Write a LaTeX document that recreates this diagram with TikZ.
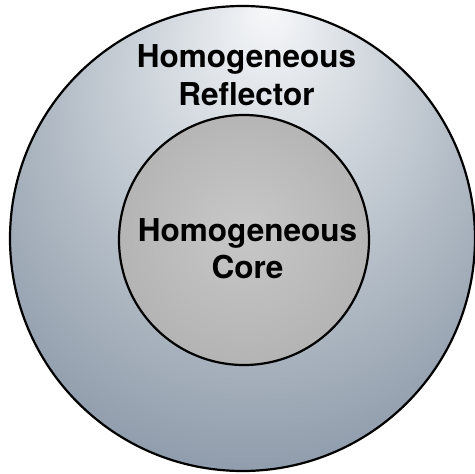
\documentclass[tikz,border=0pt]{standalone}
\usepackage{fontspec}
\setmainfont{TeX Gyre Heros}
\definecolor{reflA}{HTML}{F7F8FA}
\definecolor{reflB}{HTML}{DCE1E6}
\definecolor{reflC}{HTML}{A9B3BE}
\definecolor{reflD}{HTML}{76869A}
\definecolor{reflE}{HTML}{4F5F73}
\definecolor{coreA}{HTML}{C8C8C8}
\definecolor{coreB}{HTML}{B2B2B2}
\definecolor{coreC}{HTML}{939393}
\pgfdeclareradialshading{reflshade}{\pgfpoint{3bp}{25bp}}{%
  color(0bp)=(reflA); color(8bp)=(reflB); color(25bp)=(reflC);
  color(42bp)=(reflD); color(50bp)=(reflE)}
\pgfdeclareradialshading{coreshade}{\pgfpoint{0bp}{2bp}}{%
  color(0bp)=(coreA); color(28bp)=(coreB); color(50bp)=(coreC)}
\tikzset{
  ring/.style={draw=black, line width=2.2pt},
  lbl/.style={font=\bfseries\fontsize{31.5}{37.5}\selectfont, align=center, inner sep=0pt, anchor=base}
}
\begin{document}
\begin{tikzpicture}[x=1pt,y=-1pt]
\useasboundingbox (0,0) rectangle (475,474);
\fill[white] (0,0) rectangle (475,474);
\path[ring, shading=reflshade] (242.5,238.5) circle[radius=232.5];
\node[lbl] (refl) at (246.5,105) {Homogeneous\\Reflector};
\path[ring, shading=coreshade] (244,240) circle[radius=125];
\node[lbl] (core) at (247.5,278.5) {Homogeneous\\Core};
\end{tikzpicture}
\end{document}
